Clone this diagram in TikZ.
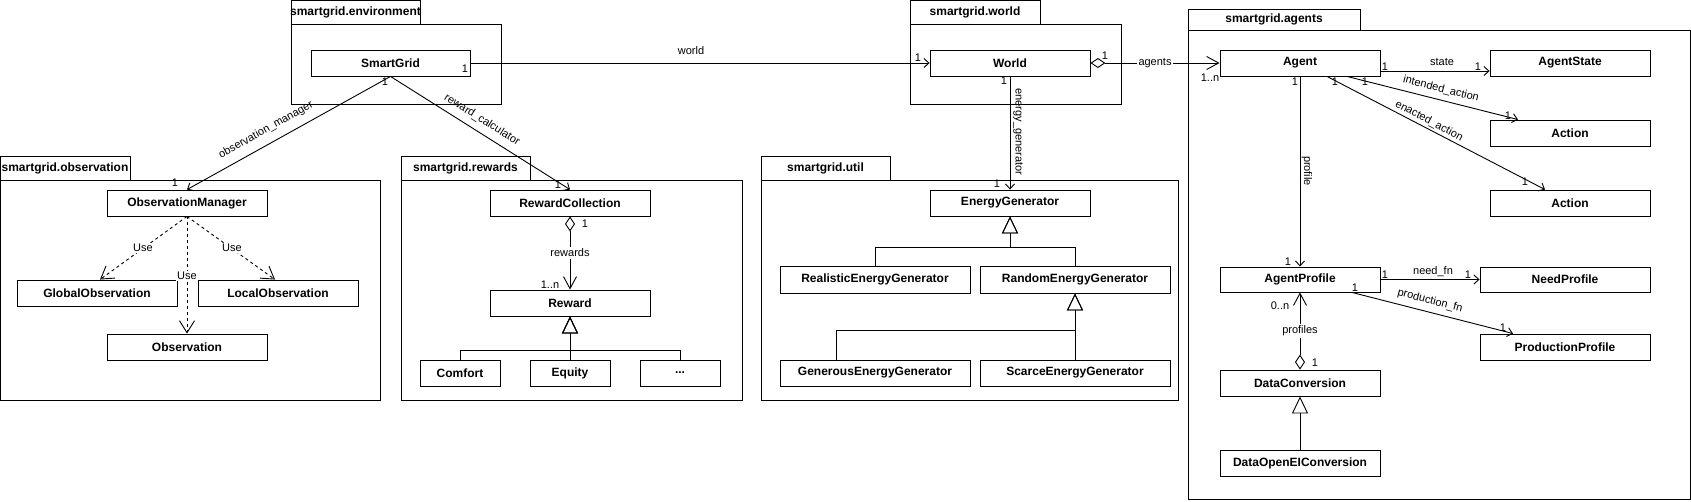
\documentclass[tikz,border=0pt]{standalone}
\usepackage{fontspec}
\setmainfont{Liberation Sans}
\usetikzlibrary{arrows.meta}
\begin{document}
\begin{tikzpicture}[x=1pt,y=-1pt, line width=0.9pt,
  cls/.style={draw, fill=white, minimum height=26pt, minimum width=160pt, inner sep=0pt, font=\bfseries\fontsize{12}{14}\selectfont},
  lbl/.style={font=\fontsize{11}{13}\selectfont, inner sep=1pt},
  wlbl/.style={lbl, fill=white, inner sep=1.5pt},
  ptab/.style={font=\bfseries\fontsize{12}{14}\selectfont, inner sep=0pt},
  assoc/.style={-{Straight Barb[length=5pt,width=9pt]}},
  aggr/.style={{Diamond[open,length=15pt,width=10pt]}-{Straight Barb[length=12pt,width=13pt]}},
  dep/.style={dash pattern=on 3pt off 3pt, -{Straight Barb[length=12pt,width=15pt]}},
  inh/.style={-{Triangle[open,length=17pt,width=16pt]}}
]
\useasboundingbox (0,0) rectangle (1691,501);

% packages
\draw (291,0.5) rectangle (420,24);
\draw (291,24) rectangle (501,104);
\node[ptab] (penv) at (355.5,12.5) {smartgrid.environment};

\draw (910,0.5) rectangle (1040,24);
\draw (910,24) rectangle (1121,104);
\node[ptab] (pworld) at (975,12.5) {smartgrid.world};

\draw (0.5,156) rectangle (130,180);
\draw (0.5,180) rectangle (380,400);
\node[ptab] (pobs) at (65,168) {smartgrid.observation};

\draw (401,156) rectangle (530,180);
\draw (401,180) rectangle (742,400);
\node[ptab] (prew) at (465.5,168) {smartgrid.rewards};

\draw (761,156) rectangle (890,180);
\draw (761,180) rectangle (1178,400);
\node[ptab] (putil) at (825.5,168) {smartgrid.util};

\draw (1188,9) rectangle (1360,30);
\draw (1188,30) rectangle (1690,499);
\node[ptab] (pagents) at (1274,19.5) {smartgrid.agents};

% classes
\node[cls, minimum width=159pt] (sg) at (390.5,63) {SmartGrid};
\node[cls] (world) at (1010,63) {World};
\node[cls] (om) at (187,203) {ObservationManager};
\node[cls] (gobs) at (97,293) {GlobalObservation};
\node[cls] (lobs) at (278,293) {LocalObservation};
\node[cls] (obs) at (187,347) {Observation};
\node[cls] (rc) at (570,203) {RewardCollection};
\node[cls] (rew) at (570,303) {Reward};
\node[cls, minimum width=80pt] (comfort) at (460,373) {Comfort};
\node[cls, minimum width=80pt] (equity) at (570,373) {Equity};
\node[cls, minimum width=80pt] (more) at (680,373) {...};
\node[cls] (eg) at (1010,203) {EnergyGenerator};
\node[cls, minimum width=190pt, minimum height=27pt] (real) at (875,279.5) {RealisticEnergyGenerator};
\node[cls, minimum width=190pt, minimum height=27pt] (rand) at (1075,279.5) {RandomEnergyGenerator};
\node[cls, minimum width=190pt] (gen) at (875,373) {GenerousEnergyGenerator};
\node[cls, minimum width=190pt] (scarce) at (1075,373) {ScarceEnergyGenerator};
\node[cls] (agent) at (1300,63) {Agent};
\node[cls] (astate) at (1570,63) {AgentState};
\node[cls] (act1) at (1570,133) {Action};
\node[cls] (act2) at (1570,203) {Action};
\node[cls, minimum height=25pt] (aprof) at (1300,279.5) {AgentProfile};
\node[cls, minimum width=170pt, minimum height=25pt] (need) at (1565,279.5) {NeedProfile};
\node[cls, minimum width=170pt] (prod) at (1565,347) {ProductionProfile};
\node[cls] (dconv) at (1300,383) {DataConversion};
\node[cls] (dopen) at (1300,463) {DataOpenEIConversion};

% associations
\draw[assoc] (sg.east) -- (world.west);
\draw[assoc] (sg.south) -- (om.north);
\draw[assoc] (sg.south) -- (rc.north);
\draw[aggr] (world.east) -- (agent.west);
\draw[assoc] (world.south) -- (eg.north);
\draw[aggr] (rc.south) -- (rew.north);
\draw[dep] (om.south) -- ([xshift=3pt]gobs.north);
\draw[dep] (om.south) -- ([xshift=-3pt]lobs.north);
\draw[dep] (om.south) -- (obs.north);
\draw[assoc] ([yshift=-8pt]agent.east) -- ([yshift=-8pt]astate.west);
\draw[assoc] ([xshift=47pt]agent.south) -- ([xshift=-52pt]act1.north);
\draw[assoc] ([xshift=27pt]agent.south) -- ([xshift=-25pt]act2.north);
\draw[assoc] (agent.south) -- (aprof.north);
\draw[assoc] (aprof.east) -- (need.west);
\draw[assoc] ([xshift=52pt]aprof.south) -- ([xshift=-52pt]prod.north);
\draw[aggr] (dconv.north) -- (aprof.south);

% generalizations
\draw[inh] (dopen.north) -- (dconv.south);
\coordinate (rbar) at (570,350);
\draw[inh] (comfort.north) |- (rbar) -- (rew.south);
\draw[inh] (more.north) |- (rbar) -- (rew.south);
\draw[inh] (equity.north) -- (rew.south);
\coordinate (egbar) at (1010,247);
\draw[inh] (real.north) |- (egbar) -- (eg.south);
\draw[inh] (rand.north) |- (egbar) -- (eg.south);
\coordinate (randbar) at (1075,330);
\draw[inh] ([xshift=-39pt]gen.north) |- (randbar) -- (rand.south);
\draw[inh] (scarce.north) -- (rand.south);

% labels
\node[lbl] (lworld) at (691,51) {world};
\node[lbl] (m1) at (465,69) {1};
\node[lbl] (m2) at (918,58) {1};
\node[lbl] (m3) at (385,82) {1};
\node[lbl] (m4) at (175,183) {1};
\node[lbl] (m5) at (558,185) {1};
\node[lbl, rotate=29.5] (lom) at (266,130) {observation\_manager};
\node[lbl, rotate=-32.2] (lrc) at (482,120) {reward\_calculator};
\node[lbl] (m6) at (585,224) {1};
\node[wlbl] (lrewards) at (570,253) {rewards};
\node[lbl] (m7) at (550,285) {1..n};
\node[wlbl] (luse1) at (143,248) {Use};
\node[wlbl] (luse2) at (232,248) {Use};
\node[wlbl] (luse3) at (187,276) {Use};
\node[lbl] (m8) at (1105,56) {1};
\node[wlbl] (lagents) at (1155,63) {agents};
\node[lbl] (m9) at (1210,78) {1..n};
\node[lbl] (m10) at (1004,81) {1};
\node[lbl] (m11) at (997,184) {1};
\node[lbl, rotate=-90] (leg) at (1018,132) {energy\_generator};
\node[lbl] (m12) at (1385,67) {1};
\node[lbl] (lstate) at (1442,62) {state};
\node[lbl] (m13) at (1478,67) {1};
\node[lbl] (m14) at (1295,82) {1};
\node[lbl] (m15) at (1365,82) {1};
\node[lbl] (m16) at (1335,82) {1};
\node[lbl] (m17) at (1508,116) {1};
\node[lbl] (m18) at (1525,182) {1};
\node[lbl, rotate=-14.3] (lint) at (1441,89) {intended\_action};
\node[lbl, rotate=-27.6] (lenact) at (1429,121) {enacted\_action};
\node[lbl, rotate=-90] (lprofile) at (1307,171) {profile};
\node[lbl] (m19) at (1288,262) {1};
\node[lbl] (m20) at (1385,275) {1};
\node[lbl] (lneed) at (1433,272) {need\_fn};
\node[lbl] (m21) at (1468,275) {1};
\node[lbl] (m22) at (1355,288) {1};
\node[lbl, rotate=-14.6] (lprod) at (1430,301) {production\_fn};
\node[lbl] (m23) at (1503,328) {1};
\node[lbl] (m24) at (1280,306) {0..n};
\node[wlbl] (lprofiles) at (1300,331) {profiles};
\node[lbl] (m25) at (1315,363) {1};
\end{tikzpicture}
\end{document}
